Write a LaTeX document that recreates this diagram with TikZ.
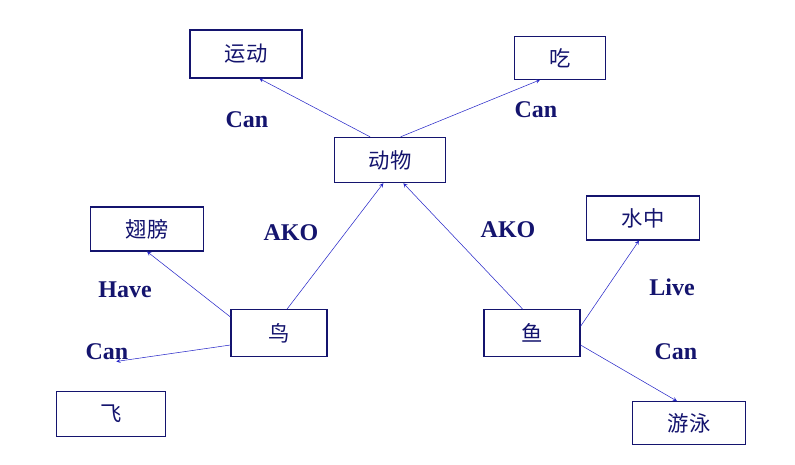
\documentclass[tikz,border=0pt]{standalone}
\usepackage{fontspec}
\setmainfont{Liberation Serif}
\newfontfamily\cjk{Noto Sans CJK SC}
\usetikzlibrary{positioning}
\definecolor{navy}{RGB}{20,20,110}
\definecolor{linkblue}{RGB}{40,40,200}

\begin{document}
\begin{tikzpicture}[x=0.75pt,y=-0.75pt,
    box/.style={draw=navy,thick,fill=white,text=navy,font=\cjk\fontsize{16}{16}\selectfont,inner sep=0pt},
    rel/.style={text=navy,font=\bfseries\fontsize{18}{18}\selectfont},
    link/.style={->,>=stealth,draw=linkblue}]
    \useasboundingbox (0,0) rectangle (795,464);
    \node[box,minimum width=84pt,minimum height=36pt] (yundong) at (246,54) {运动};
    \node[box,minimum width=68pt,minimum height=32pt] (chi)     at (560,58) {吃};
    \node[box,minimum width=83pt,minimum height=34pt] (dongwu)  at (390,160) {动物};
    \node[box,minimum width=85pt,minimum height=33pt] (chibang) at (147,229) {翅膀};
    \node[box,minimum width=85pt,minimum height=33pt] (shuizh)  at (643,218) {水中};
    \node[box,minimum width=72pt,minimum height=35pt] (niao)    at (279,333) {鸟};
    \node[box,minimum width=72pt,minimum height=35pt] (yu)      at (532,333) {鱼};
    \node[box,minimum width=82pt,minimum height=34pt] (fei)     at (111,414) {飞};
    \node[box,minimum width=85pt,minimum height=32pt] (youyong) at (689,423) {游泳};
    % relations
    \draw[link] ([xshift=-15pt]dongwu.north) -- ([xshift=10pt]yundong.south);
    \draw[link] ([xshift=8pt]dongwu.north) -- ([xshift=-15pt]chi.south);
    \draw[link] ([xshift=6pt]niao.north) -- ([xshift=-5pt]dongwu.south);
    \draw[link] ([xshift=-7pt]yu.north) -- ([xshift=10pt]dongwu.south);
    \draw[link] ([yshift=12pt]niao.west) -- (chibang.south);
    \draw[link] ([yshift=-9pt]niao.west) -- ([xshift=4pt,yshift=22pt]fei.north);
    \draw[link] ([yshift=5pt]yu.east) -- ([xshift=-3pt]shuizh.south);
    \draw[link] ([yshift=-9pt]yu.east) -- ([xshift=-9pt]youyong.north);
    % labels
    \node[rel] (l1) at (247,120) {Can};
    \node[rel] (l2) at (536,110) {Can};
    \node[rel] (l3) at (291,233) {AKO};
    \node[rel] (l4) at (508,230) {AKO};
    \node[rel] (l5) at (125,290) {Have};
    \node[rel] (l6) at (107,352) {Can};
    \node[rel] (l7) at (672,287) {Live};
    \node[rel] (l8) at (676,352) {Can};
\end{tikzpicture}
\end{document}
